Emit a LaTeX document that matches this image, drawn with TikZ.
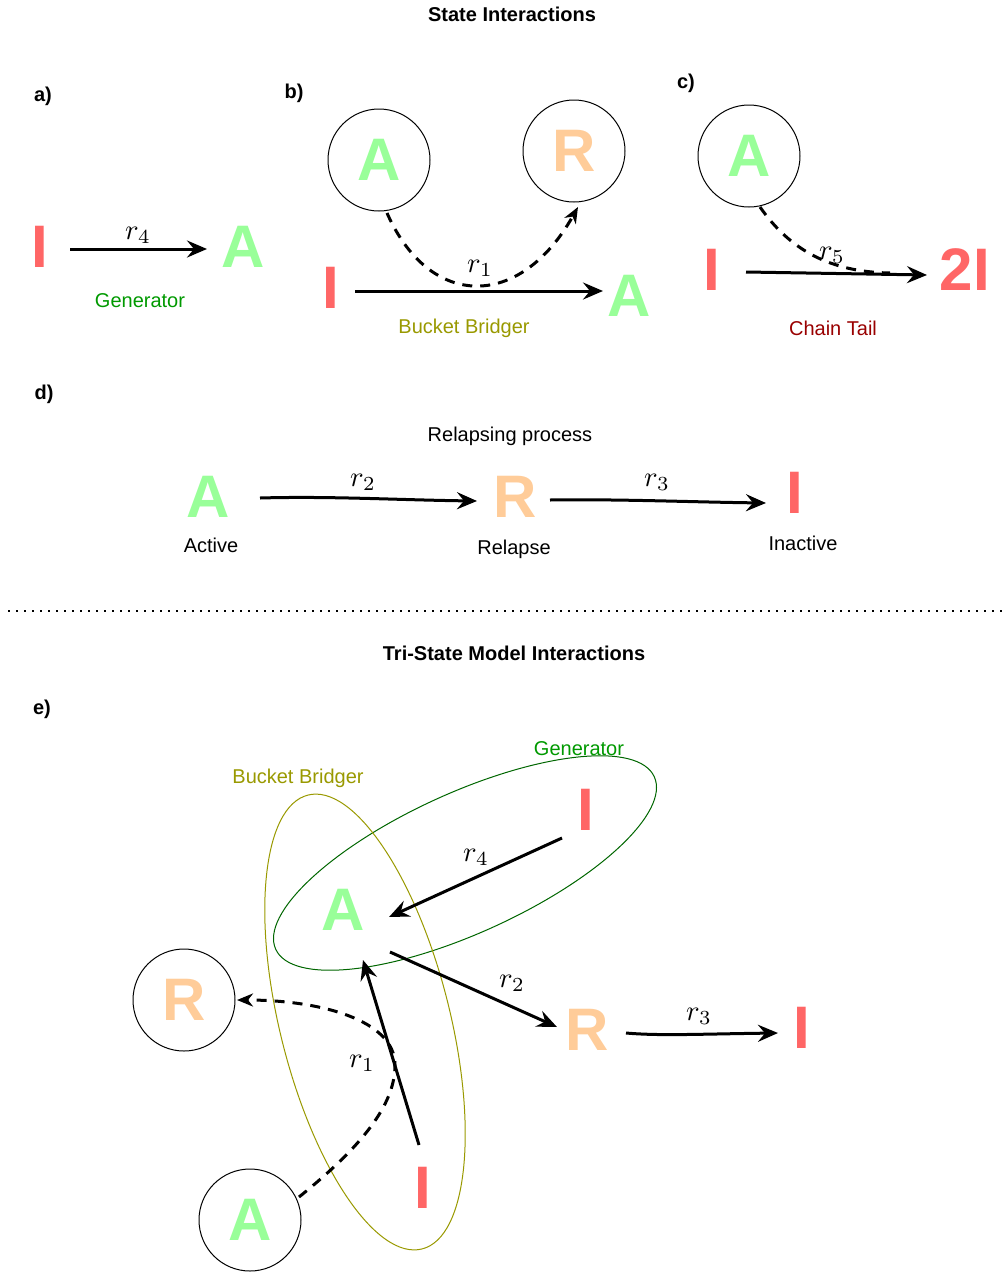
\documentclass[tikz,border=0pt]{standalone}
\usepackage{fontspec}
\setmainfont{Liberation Sans}
\usetikzlibrary{arrows.meta}
\definecolor{cA}{HTML}{99FF99}
\definecolor{cR}{HTML}{FFCC99}
\definecolor{cI}{HTML}{FF6666}
\definecolor{cGen}{HTML}{009900}
\definecolor{cGenE}{HTML}{006600}
\definecolor{cBB}{HTML}{999900}
\definecolor{cCT}{HTML}{990000}
\newcommand\myrate[1]{\scalebox{2.85}{$r_{#1}$}}
\begin{document}
\begin{tikzpicture}[x=1pt,y=1pt,
  big/.style={font=\fontsize{60}{60}\selectfont\bfseries, inner sep=0pt},
  lab/.style={font=\fontsize{20}{24}\selectfont, inner sep=0pt},
  ttl/.style={font=\fontsize{20}{24}\selectfont\bfseries, inner sep=0pt},
  rate/.style={inner sep=0pt},
  circ/.style={circle, draw=black, line width=1pt, minimum size=102pt, inner sep=0pt},
  arr/.style={line width=3pt, -{Stealth[length=20pt,width=17pt,inset=7pt]}},
  dsh/.style={line width=3pt, dash pattern=on 10pt off 8pt},
  ell/.style={line width=1pt},
]
\useasboundingbox (0,0) rectangle (1007,-1272);

% titles and panel labels
\node[ttl] (t1) at (512,-14) {State Interactions};
\node[ttl] (la) at (43,-96) {a)};
\node[ttl] (lb) at (294,-93) {b)};
\node[ttl] (lc) at (686,-83) {c)};
\node[ttl] (ld) at (44,-394) {d)};
\node[ttl] (t2) at (514,-653) {Tri-State Model Interactions};
\node[ttl] (le) at (42,-709) {e)};

% ---------- panel a
\node[big, text=cI] (aI) at (40,-247) {I};
\node[big, text=cA] (aA) at (243,-247) {A};
\coordinate (a1) at (70,-249);
\coordinate (a2) at (207,-249);
\draw[arr] (a1) -- (a2);
\node[rate] (ar4) at (138,-235) {\myrate{4}};
\node[lab, text=cGen] (aG) at (140,-301) {Generator};

% ---------- panel b
\node[circ, big, text=cA] (bcA) at (379,-160) {A};
\node[circ, big, text=cR] (bcR) at (574,-151) {R};
\node[big, text=cI] (bI) at (331,-288) {I};
\node[big, text=cA] (bA) at (629,-296) {A};
\coordinate (b1) at (355,-291);
\coordinate (b2) at (603,-291);
\coordinate (b3) at (387,-213);
\coordinate (b4) at (578,-207);
\draw[arr] (b1) -- (b2);
\draw[dsh, -{Stealth[length=16pt,width=13pt,inset=5pt]}] (b3) .. controls (430,-310) and (520,-310) .. (b4);
\node[rate] (br1) at (480,-268) {\myrate{1}};
\node[lab, text=cBB] (bBB) at (464,-328) {Bucket Bridger};

% ---------- panel c
\node[circ, big, text=cA] (ccA) at (749,-156) {A};
\node[big, text=cI] (cI) at (712,-270) {I};
\node[big, text=cI] (c2I) at (965,-270) {2I};
\coordinate (c1) at (746,-272);
\coordinate (c2) at (927,-275);
\coordinate (c3) at (760,-207);
\coordinate (c4) at (890,-273);
\draw[arr] (c1) -- (c2);
\draw[dsh] (c3) .. controls (790,-250) and (830,-272) .. (c4);
\node[rate] (cr5) at (832,-255) {\myrate{5}};
\node[lab, text=cCT] (cCTl) at (833,-328) {Chain Tail};

% ---------- panel d
\node[lab] (dT) at (510,-436) {Relapsing process};
\node[big, text=cA] (dA) at (208,-497) {A};
\node[big, text=cR] (dR) at (515,-497) {R};
\node[big, text=cI] (dI) at (795,-493) {I};
\coordinate (d1) at (260,-498);
\coordinate (d2) at (477,-501);
\coordinate (d3) at (550,-500);
\coordinate (d4) at (766,-503);
\draw[arr] (d1) .. controls (330,-496) and (400,-500) .. (d2);
\draw[arr] (d3) .. controls (620,-499) and (690,-502) .. (d4);
\node[rate] (dr2) at (363,-482) {\myrate{2}};
\node[rate] (dr3) at (657,-482) {\myrate{3}};
\node[lab] (dAl) at (211,-545) {Active};
\node[lab] (dRl) at (514,-549) {Relapse};
\node[lab] (dIl) at (803,-543) {Inactive};

% separator
\coordinate (s1) at (8,-611);
\coordinate (s2) at (1003,-611);
\draw[line width=2pt, dash pattern=on 2pt off 6pt] (s1) -- (s2);

% ---------- panel e
\draw[ell, cGenE, rotate around={24.5:(465,-863)}] (465,-863) ellipse [x radius=208, y radius=70];
\draw[ell, cBB, rotate around={-75.9:(365,-1022)}] (365,-1022) ellipse [x radius=234, y radius=85];
\node[lab, text=cGen] (eG) at (579,-749) {Generator};
\node[lab, text=cBB] (eBB) at (298,-778) {Bucket Bridger};

\node[big, text=cI] (eI1) at (586,-810) {I};
\node[big, text=cA] (eA) at (343,-910) {A};
\node[circ, big, text=cR] (ecR) at (184,-1000) {R};
\node[big, text=cR] (eR) at (587,-1030) {R};
\node[big, text=cI] (eI2) at (802,-1028) {I};
\node[big, text=cI] (eI3) at (423,-1188) {I};
\node[circ, big, text=cA] (ecA) at (250,-1220) {A};

\coordinate (e1) at (562,-838);
\coordinate (e2) at (389,-917);
\coordinate (e3) at (390,-952);
\coordinate (e4) at (557,-1027);
\coordinate (e5) at (626,-1033);
\coordinate (e6) at (778,-1033);
\coordinate (e7) at (419,-1145);
\coordinate (e8) at (363,-960);
\coordinate (e9) at (299,-1197);
\coordinate (e10) at (237,-1000);
\draw[arr] (e1) -- (e2);
\draw[arr] (e3) -- (e4);
\draw[arr] (e5) .. controls (660,-1036) and (700,-1034) .. (e6);
\draw[arr] (e7) -- (e8);
\draw[dsh, -{Stealth[length=16pt,width=13pt,inset=5pt]}] (e9) .. controls (370,-1140) and (395,-1100) .. (395,-1065) .. controls (395,-1020) and (320,-1000) .. (e10);
\node[rate] (er4) at (476,-857) {\myrate{4}};
\node[rate] (er2) at (512,-983) {\myrate{2}};
\node[rate] (er3) at (699,-1016) {\myrate{3}};
\node[rate] (er1) at (362,-1063) {\myrate{1}};
\end{tikzpicture}
\end{document}
